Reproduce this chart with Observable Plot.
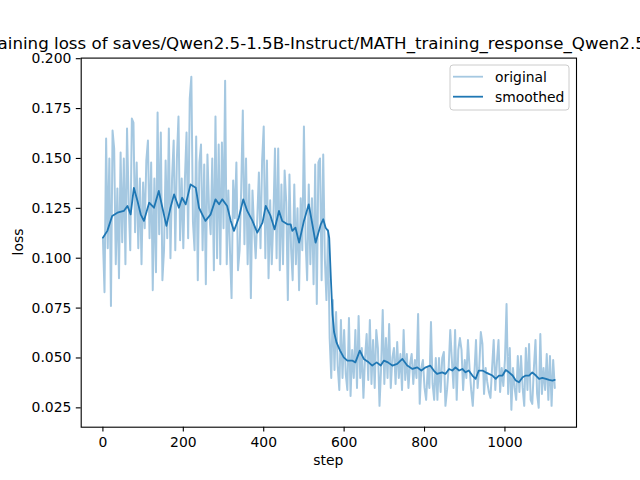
<!DOCTYPE html>
<html>
<head>
<meta charset="utf-8">
<script src="https://cdn.jsdelivr.net/npm/d3@7"></script>
<script src="https://cdn.jsdelivr.net/npm/@observablehq/plot@0.6"></script>
<style>
  html, body { margin: 0; padding: 0; background: white; }
  svg { display: block; }
</style>
</head>
<body>
<div id="chart"></div>
<script>
// ---- data ----
const titleText = "Training loss of saves/Qwen2.5-1.5B-Instruct/MATH_training_response_Qwen2.5";
const xLabel = "step";
const yLabel = "loss";
const seriesNames = ["original", "smoothed"];
const xTicks = [0, 200, 400, 600, 800, 1000];
const yTicks = [0.025, 0.050, 0.075, 0.100, 0.125, 0.150, 0.175, 0.200];

// raw loss, sampled every 4 steps (step = index * 4)
const originalEvery = 4;
const originalLoss = [
  0.110, 0.083, 0.160, 0.105, 0.150, 0.076, 0.164, 0.155, 0.097, 0.135,
  0.090, 0.153, 0.108, 0.150, 0.097, 0.165, 0.128, 0.104, 0.170, 0.168,
  0.113, 0.148, 0.105, 0.140, 0.097, 0.138, 0.115, 0.149, 0.159, 0.110,
  0.148, 0.084, 0.140, 0.093, 0.173, 0.112, 0.163, 0.089, 0.104, 0.149,
  0.110, 0.165, 0.100, 0.140, 0.159, 0.104, 0.150, 0.171, 0.109, 0.140,
  0.105, 0.140, 0.163, 0.110, 0.180, 0.191, 0.118, 0.104, 0.161, 0.089,
  0.148, 0.157, 0.104, 0.147, 0.087, 0.152, 0.125, 0.112, 0.150, 0.094,
  0.171, 0.100, 0.157, 0.097, 0.158, 0.115, 0.189, 0.097, 0.134, 0.104,
  0.080, 0.139, 0.120, 0.148, 0.094, 0.104, 0.135, 0.174, 0.107, 0.150,
  0.097, 0.137, 0.080, 0.134, 0.115, 0.100, 0.120, 0.143, 0.105, 0.149,
  0.166, 0.100, 0.149, 0.090, 0.129, 0.097, 0.120, 0.155, 0.100, 0.155,
  0.094, 0.137, 0.097, 0.144, 0.128, 0.079, 0.142, 0.105, 0.089, 0.137,
  0.097, 0.125, 0.084, 0.130, 0.104, 0.166, 0.110, 0.089, 0.137, 0.097,
  0.130, 0.087, 0.147, 0.077, 0.148, 0.150, 0.089, 0.152, 0.100, 0.079,
  0.114,
  0.060, 0.040, 0.079, 0.044, 0.073, 0.046, 0.034, 0.069, 0.040, 0.064,
  0.042, 0.034, 0.070, 0.031, 0.054, 0.040, 0.064, 0.035, 0.071, 0.040,
  0.055, 0.030, 0.050, 0.062, 0.039, 0.069, 0.037, 0.059, 0.035, 0.064,
  0.055, 0.026, 0.045, 0.074, 0.037, 0.060, 0.040, 0.067, 0.035, 0.050,
  0.055, 0.037, 0.058, 0.040, 0.052, 0.034, 0.064, 0.039, 0.052, 0.035,
  0.047, 0.052, 0.037, 0.049, 0.040, 0.072, 0.027, 0.045, 0.049, 0.035,
  0.029, 0.045, 0.035, 0.068, 0.037, 0.029, 0.050, 0.029, 0.050, 0.033,
  0.050, 0.053, 0.026, 0.034, 0.045, 0.064, 0.049, 0.035, 0.064, 0.029,
  0.054, 0.060, 0.054, 0.034, 0.049, 0.040, 0.059, 0.045, 0.034, 0.026,
  0.042, 0.059, 0.035, 0.045, 0.063, 0.057, 0.032, 0.045, 0.038, 0.033,
  0.030, 0.045, 0.059, 0.034, 0.048, 0.059, 0.033, 0.045, 0.036, 0.049,
  0.077, 0.032, 0.055, 0.024, 0.045, 0.035, 0.029, 0.051, 0.033, 0.051,
  0.035, 0.026, 0.055, 0.034, 0.057, 0.029, 0.027, 0.045, 0.059, 0.032,
  0.025, 0.062, 0.032, 0.045, 0.034, 0.052, 0.029, 0.051, 0.026, 0.049,
  0.035
];

const smoothedSteps = [
  0, 11, 23, 36, 52, 61, 69, 77, 86, 94, 102, 115, 127, 139, 148, 158, 168, 177, 189, 197,
  206, 218, 231, 239, 247, 255, 268, 280, 289, 297, 309, 318, 326, 338, 349, 359, 372, 384, 397, 405,
  417, 427, 438, 446, 459, 467, 471, 479, 488, 500, 512, 521, 529, 542, 548, 554, 560, 563, 567, 571,
  575, 581, 590, 599, 608, 620, 628, 639, 649, 661, 670, 681, 691, 699, 709, 720, 732, 745, 757, 770,
  782, 792, 803, 814, 823, 831, 844, 852, 861, 869, 877, 886, 894, 902, 910, 919, 927, 935, 944, 952,
  960, 969, 977, 985, 994, 1002, 1010, 1019, 1027, 1035, 1044, 1052, 1060, 1068, 1077, 1085, 1093, 1102, 1110, 1118,
  1124
];
const smoothedLoss = [
  0.1103, 0.1137, 0.1212, 0.1228, 0.1237, 0.1262, 0.1220, 0.1353, 0.1287, 0.1220, 0.1187, 0.1278, 0.1253, 0.1337, 0.1253, 0.1162, 0.1253, 0.1320, 0.1253, 0.1303,
  0.1270, 0.1370, 0.1353, 0.1253, 0.1220, 0.1187, 0.1220, 0.1295, 0.1270, 0.1295, 0.1262, 0.1187, 0.1137, 0.1203, 0.1295, 0.1237, 0.1187, 0.1128, 0.1178, 0.1262,
  0.1212, 0.1145, 0.1237, 0.1187, 0.1170, 0.1170, 0.1137, 0.1153, 0.1078, 0.1187, 0.1270, 0.1170, 0.1078, 0.1170, 0.1195, 0.1153, 0.1137, 0.1100, 0.0900, 0.0720,
  0.0630, 0.0578, 0.0537, 0.0503, 0.0487, 0.0487, 0.0478, 0.0537, 0.0495, 0.0478, 0.0462, 0.0478, 0.0462, 0.0487, 0.0478, 0.0462, 0.0470, 0.0495, 0.0462, 0.0445,
  0.0453, 0.0437, 0.0453, 0.0462, 0.0437, 0.0420, 0.0428, 0.0420, 0.0445, 0.0437, 0.0453, 0.0437, 0.0445, 0.0428, 0.0437, 0.0412, 0.0395, 0.0437, 0.0437, 0.0428,
  0.0420, 0.0412, 0.0395, 0.0412, 0.0412, 0.0440, 0.0428, 0.0412, 0.0387, 0.0378, 0.0403, 0.0412, 0.0412, 0.0428, 0.0412, 0.0395, 0.0400, 0.0395, 0.0390, 0.0387,
  0.0390
];

// ---- tables for Plot ----
const originalData = originalLoss.map((v, i) => ({step: i * originalEvery, loss: v}));
const smoothedData = smoothedLoss.map((v, i) => ({step: smoothedSteps[i], loss: v}));

const C0 = "#1f77b4";
const C0light = "#a5c8e1"; // C0 at alpha 0.4 on white
const font = "'DejaVu Sans', sans-serif";

const chart = Plot.plot({
  width: 640,
  height: 480,
  marginLeft: 80.7,
  marginRight: 64,
  marginTop: 57.6,
  marginBottom: 53.3,
  style: {fontFamily: font, fontSize: "13.9px", background: "white", color: "black", overflow: "hidden"},
  x: {domain: [-54, 1178]},
  y: {domain: [0.0153, 0.2003]},
  marks: [
    Plot.line(originalData, {x: "step", y: "loss", stroke: C0light, strokeWidth: 2}),
    Plot.line(smoothedData, {x: "step", y: "loss", stroke: C0, strokeWidth: 1.8}),
    Plot.frame({stroke: "black", strokeWidth: 1.1}),
    Plot.axisX({ticks: xTicks, tickFormat: d3.format("d"), tickSize: 4.9, tickPadding: 4.9, label: null, strokeWidth: 1.1}),
    Plot.axisY({ticks: yTicks, tickFormat: d3.format(".3f"), tickSize: 4.9, tickPadding: 4.9, label: null, strokeWidth: 1.1})
  ]
});

document.getElementById("chart").appendChild(chart);

const svg = d3.select(chart);
// title (overflows the figure like the reference)
svg.append("text")
  .attr("x", -17).attr("y", 48.5)
  .attr("text-anchor", "start")
  .style("font-family", font).style("font-size", "16.67px").attr("fill", "black")
  .text(titleText);
// axis labels
svg.append("text")
  .attr("x", 328.3).attr("y", 465)
  .attr("text-anchor", "middle")
  .style("font-family", font).style("font-size", "13.9px").attr("fill", "black")
  .text(xLabel);
svg.append("text")
  .attr("transform", "translate(22.5,242) rotate(-90)")
  .attr("text-anchor", "middle")
  .style("font-family", font).style("font-size", "13.9px").attr("fill", "black")
  .text(yLabel);

// legend
const lg = svg.append("g");
lg.append("rect")
  .attr("x", 450).attr("y", 65).attr("width", 119).attr("height", 45).attr("rx", 3)
  .attr("fill", "white").attr("fill-opacity", 0.8).attr("stroke", "#cccccc").attr("stroke-width", 1);
seriesNames.forEach((name, i) => {
  const y = 76.7 + i * 20;
  lg.append("line")
    .attr("x1", 453).attr("x2", 483).attr("y1", y).attr("y2", y)
    .attr("stroke", i === 0 ? C0light : C0).attr("stroke-width", 1.8);
  lg.append("text")
    .attr("x", 495).attr("y", y + 5)
    .attr("text-anchor", "start")
    .style("font-family", font).style("font-size", "13.9px").attr("fill", "black")
    .text(name);
});
</script>
</body>
</html>
